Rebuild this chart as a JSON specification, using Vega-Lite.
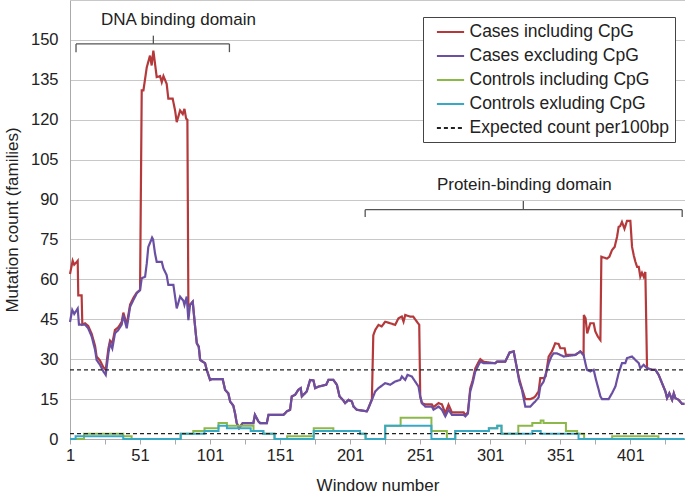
{
  "$schema": "https://vega.github.io/schema/vega-lite/v6.json",
  "width": 615,
  "height": 439,
  "autosize": "none",
  "padding": {"left": 70, "top": 0, "right": 0, "bottom": 57},
  "config": {
    "font": "Liberation Sans",
    "view": {"stroke": null},
    "axis": {"labelFont": "Liberation Sans", "titleFont": "Liberation Sans", "labelColor": "#222", "titleColor": "#222", "titleFontWeight": "normal", "labelFontSize": 16.5, "titleFontSize": 17},
    "legend": {"labelFont": "Liberation Sans"}
  },
  "datasets": {
    "red": [
      {"w":1,"v":62},{"w":2.9,"v":67},{"w":4,"v":65.5},{"w":6.5,"v":67},{"w":6.9,"v":54},{"w":9.3,"v":54},{"w":9.8,"v":43},{"w":11.7,"v":43.5},{"w":14,"v":42.5},{"w":16.5,"v":39.5},{"w":18.9,"v":35},{"w":20,"v":31},{"w":22.4,"v":29.5},{"w":24.8,"v":27},{"w":26.5,"v":26},{"w":28.4,"v":34},{"w":29.6,"v":37},{"w":31.2,"v":36},{"w":33.1,"v":41},{"w":35.5,"v":42},{"w":37.9,"v":44},{"w":39.1,"v":47.5},{"w":41.5,"v":43},{"w":43.9,"v":50.5},{"w":46.2,"v":53},{"w":48.6,"v":55},{"w":51,"v":56},{"w":52.2,"v":131},{"w":53.4,"v":131},{"w":55.8,"v":139.7},{"w":58.1,"v":144.1},{"w":59.3,"v":140.4},{"w":60.5,"v":146},{"w":61.7,"v":141},{"w":62.9,"v":136},{"w":65.3,"v":136.4},{"w":66.5,"v":134.1},{"w":67.7,"v":136.4},{"w":70,"v":133.5},{"w":71.2,"v":127.9},{"w":74.3,"v":127.9},{"w":76,"v":123.5},{"w":77.2,"v":119.1},{"w":79.6,"v":123.5},{"w":81.5,"v":122.1},{"w":82.7,"v":124.1},{"w":83.9,"v":120.4},{"w":84.8,"v":120},{"w":85.5,"v":50},{"w":86.7,"v":50.4},{"w":88.6,"v":51.6},{"w":90.3,"v":42.2},{"w":91.5,"v":36},{"w":92.9,"v":34.7},{"w":93.9,"v":29.7},{"w":97.4,"v":28.5},{"w":98.6,"v":26},{"w":101,"v":22.2},{"w":102.4,"v":22.5},{"w":110,"v":22.5},{"w":111.7,"v":18.5},{"w":114,"v":17.2},{"w":115.3,"v":14.1},{"w":117.6,"v":12.5},{"w":118.9,"v":9.4},{"w":120,"v":6},{"w":121.7,"v":4.1},{"w":124.3,"v":6},{"w":131.9,"v":6},{"w":133,"v":9.1},{"w":135.5,"v":6.6},{"w":136.7,"v":6},{"w":141.5,"v":6},{"w":142.7,"v":9.1},{"w":153.4,"v":9.1},{"w":155.8,"v":10.4},{"w":158.1,"v":11},{"w":159.3,"v":16},{"w":161.7,"v":16.6},{"w":164,"v":18.5},{"w":165.7,"v":19.1},{"w":166.5,"v":16},{"w":170,"v":17.9},{"w":172.4,"v":22.2},{"w":174.8,"v":22},{"w":176,"v":19.1},{"w":178.4,"v":19.7},{"w":183.9,"v":20.4},{"w":185.5,"v":22.2},{"w":189,"v":22.2},{"w":191.5,"v":20.4},{"w":193.4,"v":16},{"w":195.8,"v":14.7},{"w":197.4,"v":13.5},{"w":199.8,"v":14.7},{"w":202.2,"v":14.1},{"w":203.4,"v":12.2},{"w":205.7,"v":11},{"w":212.9,"v":10.4},{"w":214,"v":11.6},{"w":216.5,"v":15},{"w":217.5,"v":39},{"w":218.9,"v":41},{"w":221.2,"v":42.9},{"w":223.5,"v":42.3},{"w":226,"v":44.1},{"w":229.6,"v":43.5},{"w":233.1,"v":42.9},{"w":235.5,"v":45.4},{"w":237.9,"v":46},{"w":239.1,"v":44.1},{"w":240.3,"v":46.6},{"w":243.9,"v":46},{"w":246,"v":46},{"w":248.6,"v":44.1},{"w":250.3,"v":42.9},{"w":251,"v":16},{"w":252.2,"v":13.5},{"w":254.6,"v":13},{"w":259.3,"v":13},{"w":260.5,"v":12},{"w":264.1,"v":13.5},{"w":266.5,"v":13},{"w":268.9,"v":9.7},{"w":271.2,"v":12.9},{"w":273.6,"v":10},{"w":282,"v":10},{"w":283.2,"v":9},{"w":285,"v":10},{"w":286.7,"v":19},{"w":288.4,"v":22},{"w":290.3,"v":26.5},{"w":292.7,"v":29},{"w":293.9,"v":30},{"w":296.2,"v":29},{"w":304.6,"v":28.5},{"w":305.8,"v":29.1},{"w":311.7,"v":29.1},{"w":312.9,"v":30.4},{"w":314.8,"v":32.5},{"w":317.7,"v":32.9},{"w":318.9,"v":29.7},{"w":320,"v":26.6},{"w":321.7,"v":22.5},{"w":323.6,"v":19},{"w":326,"v":15},{"w":329.6,"v":15},{"w":331.9,"v":15.5},{"w":333.1,"v":16},{"w":335.5,"v":17.9},{"w":336.7,"v":22.9},{"w":339.1,"v":22.9},{"w":340.5,"v":23.5},{"w":342.7,"v":31},{"w":345,"v":32.9},{"w":347.4,"v":36},{"w":349.8,"v":35.7},{"w":351,"v":34.1},{"w":354.1,"v":34.1},{"w":355,"v":31.6},{"w":361.7,"v":31.6},{"w":365.3,"v":32.9},{"w":367.6,"v":31.6},{"w":367.8,"v":46.6},{"w":369,"v":45.4},{"w":370.2,"v":39.7},{"w":372.4,"v":43.5},{"w":374.8,"v":43.5},{"w":376,"v":40.4},{"w":377.8,"v":38.5},{"w":379.6,"v":37.2},{"w":380.3,"v":68.5},{"w":384.3,"v":67.8},{"w":386,"v":68.5},{"w":387.9,"v":71},{"w":389.8,"v":72.2},{"w":391.5,"v":76},{"w":392.6,"v":79.7},{"w":393.7,"v":80},{"w":395,"v":81.6},{"w":396.8,"v":79},{"w":398.6,"v":82},{"w":401,"v":82},{"w":402.2,"v":72.2},{"w":403.4,"v":69.1},{"w":404.6,"v":66.6},{"w":405.8,"v":64.7},{"w":407,"v":64.7},{"w":408.1,"v":61},{"w":409.3,"v":62.5},{"w":410.5,"v":61},{"w":411.7,"v":62.8},{"w":412.9,"v":26.6},{"w":416.5,"v":26},{"w":418.9,"v":26},{"w":421.2,"v":24.1},{"w":423.6,"v":21},{"w":426,"v":17.9},{"w":427.2,"v":15.4},{"w":428.8,"v":17.2},{"w":430.8,"v":14.7},{"w":432,"v":17.2},{"w":433.1,"v":15.4},{"w":435.5,"v":14.7},{"w":437.9,"v":13.2},{"w":439.6,"v":13.2}
    ],
    "purple": [
      {"w":1,"v":44},{"w":2.6,"v":48.5},{"w":4,"v":47},{"w":6.5,"v":49},{"w":7.4,"v":43},{"w":11.7,"v":43},{"w":14,"v":41.6},{"w":16.5,"v":38.5},{"w":18.9,"v":33.5},{"w":20,"v":29.7},{"w":22.4,"v":27.9},{"w":24.8,"v":25.4},{"w":26.5,"v":24.1},{"w":28.4,"v":32.2},{"w":29.6,"v":36},{"w":31.2,"v":34},{"w":33.1,"v":39.7},{"w":35.5,"v":41},{"w":37.9,"v":43},{"w":39.1,"v":46.6},{"w":41.5,"v":41.6},{"w":43.9,"v":49.7},{"w":46.2,"v":52.2},{"w":48.6,"v":54.7},{"w":51,"v":56},{"w":52.2,"v":60.4},{"w":54.6,"v":61},{"w":55.8,"v":66},{"w":56.9,"v":72.2},{"w":58.9,"v":74.7},{"w":59.6,"v":75.7},{"w":60.3,"v":75},{"w":61.7,"v":69.7},{"w":62.9,"v":66.6},{"w":66.5,"v":66.6},{"w":67.7,"v":64.1},{"w":70,"v":61.6},{"w":71.2,"v":57.9},{"w":74.8,"v":57.9},{"w":76,"v":53.5},{"w":77.2,"v":49.1},{"w":79.6,"v":53.5},{"w":81.9,"v":52},{"w":82.7,"v":50.4},{"w":84.3,"v":53.5},{"w":85.5,"v":44.7},{"w":86.7,"v":50.4},{"w":88.6,"v":51.6},{"w":90.3,"v":42.2},{"w":91.5,"v":36},{"w":92.9,"v":34.7},{"w":93.9,"v":29.7},{"w":97.4,"v":28.5},{"w":98.6,"v":26},{"w":101,"v":22.2},{"w":102.4,"v":22.5},{"w":110,"v":22.5},{"w":111.7,"v":18.5},{"w":114,"v":17.2},{"w":115.3,"v":14.1},{"w":117.6,"v":12.5},{"w":118.9,"v":9.4},{"w":120,"v":6},{"w":121.7,"v":4.1},{"w":124.3,"v":6},{"w":131.9,"v":6},{"w":133,"v":9.1},{"w":135.5,"v":6.6},{"w":136.7,"v":6},{"w":141.5,"v":6},{"w":142.7,"v":9.1},{"w":153.4,"v":9.1},{"w":155.8,"v":10.4},{"w":158.1,"v":11},{"w":159.3,"v":16},{"w":161.7,"v":16.6},{"w":164,"v":18.5},{"w":165.7,"v":19.1},{"w":166.5,"v":16},{"w":170,"v":17.9},{"w":172.4,"v":22.2},{"w":174.8,"v":22},{"w":176,"v":19.1},{"w":178.4,"v":19.7},{"w":183.9,"v":20.4},{"w":185.5,"v":22.2},{"w":189,"v":22.2},{"w":191.5,"v":20.4},{"w":193.4,"v":16},{"w":195.8,"v":14.7},{"w":197.4,"v":13.5},{"w":199.8,"v":14.7},{"w":202.2,"v":14.1},{"w":203.4,"v":12.2},{"w":205.7,"v":11},{"w":212.9,"v":10.4},{"w":214,"v":11.6},{"w":216.5,"v":14.7},{"w":218.9,"v":17.9},{"w":221.2,"v":19.1},{"w":226,"v":21},{"w":229.6,"v":20.4},{"w":233.1,"v":21.6},{"w":236.7,"v":22.2},{"w":237.9,"v":23.5},{"w":240.3,"v":22.2},{"w":241.9,"v":24.1},{"w":245,"v":23.5},{"w":247.4,"v":21.6},{"w":249.8,"v":19.7},{"w":251,"v":16},{"w":252.2,"v":13.5},{"w":254.6,"v":12.2},{"w":259.3,"v":12.2},{"w":260.5,"v":11},{"w":264.1,"v":12.2},{"w":266.5,"v":11},{"w":268.9,"v":8.5},{"w":271.2,"v":11},{"w":273.6,"v":9.1},{"w":282,"v":9.1},{"w":283.2,"v":8.5},{"w":285,"v":9.5},{"w":286.7,"v":17.9},{"w":288.4,"v":21},{"w":290.3,"v":25.4},{"w":292.7,"v":27.9},{"w":293.9,"v":29.1},{"w":296.2,"v":28.5},{"w":304.6,"v":28.5},{"w":305.8,"v":29.1},{"w":311.7,"v":29.1},{"w":312.9,"v":30.4},{"w":314.8,"v":32.5},{"w":317.7,"v":32.9},{"w":318.9,"v":29.7},{"w":320,"v":26.6},{"w":321.7,"v":21.6},{"w":323.6,"v":18.5},{"w":326,"v":12.2},{"w":329.6,"v":12.2},{"w":331.9,"v":13.5},{"w":333.1,"v":14.1},{"w":335.5,"v":15.6},{"w":336.7,"v":19.7},{"w":339.1,"v":21.6},{"w":342.7,"v":28.5},{"w":344.6,"v":31},{"w":346.2,"v":32.2},{"w":348.6,"v":32.2},{"w":351,"v":31.6},{"w":353.4,"v":31},{"w":361.7,"v":31.6},{"w":365.3,"v":32.9},{"w":367.6,"v":31.6},{"w":368.9,"v":28.5},{"w":370,"v":26},{"w":372.4,"v":25.4},{"w":374.8,"v":26},{"w":376.5,"v":22.2},{"w":378.4,"v":18.5},{"w":379.6,"v":16},{"w":380.8,"v":15},{"w":385.5,"v":15},{"w":387.9,"v":17.2},{"w":390.3,"v":19.7},{"w":392.6,"v":24.7},{"w":395,"v":28.5},{"w":397.4,"v":28.5},{"w":398.6,"v":30.4},{"w":402.2,"v":31},{"w":404.6,"v":29.7},{"w":407,"v":28.5},{"w":408.1,"v":26.6},{"w":410.5,"v":27.9},{"w":412.9,"v":26.6},{"w":416.5,"v":26},{"w":418.9,"v":26},{"w":421.2,"v":24.1},{"w":423.6,"v":21},{"w":426,"v":17.9},{"w":427.2,"v":15.4},{"w":428.8,"v":17.2},{"w":430.8,"v":14.7},{"w":432,"v":17.2},{"w":433.1,"v":15.4},{"w":435.5,"v":14.7},{"w":437.9,"v":13.2},{"w":439.6,"v":13.2}
    ],
    "green": [
      {"w":1,"v":0},{"w":11,"v":2},{"w":39,"v":1},{"w":45,"v":0},{"w":80,"v":2},{"w":89,"v":3},{"w":97,"v":4},{"w":107,"v":6},{"w":113,"v":5},{"w":132,"v":3},{"w":139,"v":2},{"w":147,"v":0},{"w":156,"v":1},{"w":175,"v":4},{"w":189,"v":3},{"w":208,"v":2},{"w":212,"v":0},{"w":226,"v":5},{"w":237,"v":8},{"w":259,"v":3},{"w":270,"v":0},{"w":276,"v":3},{"w":300,"v":4},{"w":306,"v":5},{"w":309,"v":2},{"w":321,"v":5},{"w":331,"v":6},{"w":337,"v":7},{"w":339,"v":6},{"w":355,"v":3},{"w":363,"v":2},{"w":368,"v":0},{"w":388,"v":1},{"w":421,"v":0},{"w":439.6,"v":0}
    ],
    "teal": [
      {"w":1,"v":0},{"w":5,"v":1},{"w":39,"v":0},{"w":80,"v":2},{"w":97,"v":3},{"w":107,"v":5},{"w":113,"v":4},{"w":130,"v":3},{"w":139,"v":2},{"w":147,"v":0},{"w":175,"v":3},{"w":208,"v":2},{"w":212,"v":0},{"w":226,"v":5},{"w":259,"v":0},{"w":276,"v":3},{"w":300,"v":4},{"w":306,"v":5},{"w":309,"v":2},{"w":331,"v":3},{"w":337,"v":2},{"w":364,"v":0},{"w":439.6,"v":0}
    ],
    "expected": [
      {"w":1,"v":26,"g":"a"},{"w":440,"v":26,"g":"a"},{"w":1,"v":2,"g":"b"},{"w":440,"v":2,"g":"b"}
    ],
    "hbr": [
      {"x":5.3,"x2":114.8,"y":148.5},{"x":211.7,"x2":438,"y":86.2}
    ],
    "vbr": [
      {"x":5.3,"y":148.5,"y2":145.4},{"x":114.8,"y":148.5,"y2":145.4},{"x":60.5,"y":148.5,"y2":151.6},
      {"x":211.7,"y":86.2,"y2":83.4},{"x":438,"y":86.2,"y2":83.4},{"x":324.6,"y":86.2,"y2":89.5}
    ],
    "ann": [
      {"x":78.4,"y":157.6,"t":"DNA binding domain"},{"x":325.3,"y":95.4,"t":"Protein-binding domain"}
    ]
  },
  "encoding": {
    "x": {"field": "w", "type": "quantitative", "scale": {"domain": [1, 440], "nice": false, "zero": false},
      "axis": {"title": "Window number", "values": [1,26,51,76,101,126,151,176,201,226,251,276,301,326,351,376,401,426], "labelExpr": "(datum.value - 1) % 50 == 0 ? datum.label : ''", "grid": false, "domainColor": "#aaa", "tickColor": "#aaa", "tickSize": 5, "labelPadding": 3, "titlePadding": 14, "labelFlush": false}},
    "y": {"field": "v", "type": "quantitative", "scale": {"domain": [0, 165], "nice": false},
      "axis": {"title": "Mutation count (families)", "values": [0,15,30,45,60,75,90,105,120,135,150,165], "labelExpr": "datum.value == 165 ? '' : datum.label", "ticks": false, "gridColor": "#c8c8c8", "domainColor": "#aaa", "labelPadding": 12, "titlePadding": 9}}
  },
  "layer": [
    {"data": {"name": "red"}, "mark": {"type": "line", "strokeWidth": 2.2},
      "encoding": {"color": {"datum": "Cases including CpG", "type": "nominal",
        "scale": {"domain": ["Cases including CpG","Cases excluding CpG","Controls including CpG","Controls exluding CpG","Expected count per100bp"], "range": ["#B5393B","#6A4FA3","#8CB84A","#38A8C5","#222222"]},
        "legend": {"title": null, "orient": "none", "legendX": 353, "legendY": 17, "strokeColor": "#444", "fillColor": "white", "padding": 5.5, "labelFontSize": 17.5, "symbolType": "M-1.6,0L1.6,0", "symbolSize": 289, "symbolOffset": 12.5, "symbolStrokeWidth": 2, "rowPadding": 6, "labelLimit": 300, "labelColor": "#222", "labelOffset": 9.5}},
        "strokeDash": {"datum": "Cases including CpG", "type": "nominal",
          "scale": {"domain": ["Cases including CpG","Cases excluding CpG","Controls including CpG","Controls exluding CpG","Expected count per100bp"], "range": [[1,0],[1,0],[1,0],[1,0],[4,3]]},
          "legend": {"title": null, "orient": "none", "legendX": 353, "legendY": 17, "strokeColor": "#444", "fillColor": "white", "padding": 5.5, "labelFontSize": 17.5, "symbolType": "M-1.6,0L1.6,0", "symbolSize": 289, "symbolOffset": 12.5, "symbolStrokeWidth": 2, "rowPadding": 6, "labelLimit": 300, "labelColor": "#222", "labelOffset": 9.5}}}},
    {"data": {"name": "purple"}, "mark": {"type": "line", "strokeWidth": 2.2},
      "encoding": {"color": {"datum": "Cases excluding CpG", "type": "nominal"}, "strokeDash": {"datum": "Cases excluding CpG", "type": "nominal"}}},
    {"data": {"name": "green"}, "mark": {"type": "line", "strokeWidth": 2, "interpolate": "step-after"},
      "encoding": {"color": {"datum": "Controls including CpG", "type": "nominal"}, "strokeDash": {"datum": "Controls including CpG", "type": "nominal"}}},
    {"data": {"name": "teal"}, "mark": {"type": "line", "strokeWidth": 2, "interpolate": "step-after"},
      "encoding": {"color": {"datum": "Controls exluding CpG", "type": "nominal"}, "strokeDash": {"datum": "Controls exluding CpG", "type": "nominal"}}},
    {"data": {"name": "expected"}, "mark": {"type": "line", "strokeWidth": 1.3},
      "encoding": {"detail": {"field": "g"}, "color": {"datum": "Expected count per100bp", "type": "nominal"}, "strokeDash": {"datum": "Expected count per100bp", "type": "nominal"}}},
    {"data": {"name": "hbr"}, "mark": {"type": "rule", "color": "#555", "strokeWidth": 1.3},
      "encoding": {"x": {"field": "x", "type": "quantitative"}, "x2": {"field": "x2"}, "y": {"field": "y", "type": "quantitative"}}},
    {"data": {"name": "vbr"}, "mark": {"type": "rule", "color": "#555", "strokeWidth": 1.3},
      "encoding": {"x": {"field": "x", "type": "quantitative"}, "y": {"field": "y", "type": "quantitative"}, "y2": {"field": "y2"}}},
    {"data": {"name": "ann"}, "mark": {"type": "text", "fontSize": 17, "color": "#222", "align": "center", "baseline": "middle"},
      "encoding": {"x": {"field": "x", "type": "quantitative"}, "y": {"field": "y", "type": "quantitative"}, "text": {"field": "t"}}}
  ]
}
